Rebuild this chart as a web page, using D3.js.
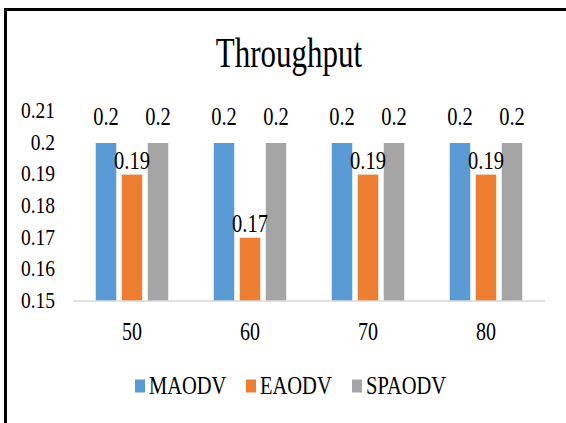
<!DOCTYPE html>
<html>
<head>
<meta charset="utf-8">
<script src="https://cdn.jsdelivr.net/npm/d3@7"></script>
<style>
  html, body { margin: 0; padding: 0; background: #fff; }
  svg { display: block; }
  text { font-family: "Liberation Serif", "Times New Roman", serif; fill: #000; }
</style>
</head>
<body>
<script>
const categories = ["50", "60", "70", "80"];
const seriesNames = ["MAODV", "EAODV", "SPAODV"];
const MAODV = [0.2, 0.2, 0.2, 0.2];
const EAODV = [0.19, 0.17, 0.19, 0.19];
const SPAODV = [0.2, 0.2, 0.2, 0.2];
const yTicks = [0.15, 0.16, 0.17, 0.18, 0.19, 0.2, 0.21];
const colors = ["#5B9BD5", "#ED7D31", "#A5A5A5"];

const W = 566, H = 423;
const svg = d3.select("body").append("svg").attr("width", W).attr("height", H);

// outer border (chart frame, cut at right/bottom)
svg.append("rect").attr("x", 5.5).attr("y", 9.5).attr("width", 620).attr("height", 500)
  .attr("fill", "#fff").attr("stroke", "#000").attr("stroke-width", 3);

const SY = 1.22;
function addText(g, x, y, str, size, anchor, sy) {
  return g.append("text")
    .attr("transform", `translate(${x},${y}) scale(1,${sy || SY})`)
    .attr("text-anchor", anchor || "middle")
    .style("font-size", size + "px")
    .text(str);
}

// title
addText(svg, 289, 67, "Throughput", 31, "middle", 1.35);

const x0 = d3.scaleBand().domain(categories).range([73, 545]).paddingInner(0).paddingOuter(0);
const x1 = d3.scaleBand().domain(seriesNames).range([-36.25, 36.25]).paddingInner(0.2115).paddingOuter(0);
const y = d3.scaleLinear().domain([0.15, 0.21]).range([301, 111.4]);

const data = [MAODV, EAODV, SPAODV];

// y tick labels
yTicks.forEach(t => {
  addText(svg, 55, y(t) + 6.8, d3.format(".2~f")(t), 19.5, "end");
});

// bars
seriesNames.forEach((s, si) => {
  categories.forEach((c, ci) => {
    const v = data[si][ci];
    const cx = x0(c) + x0.bandwidth() / 2;
    svg.append("rect")
      .attr("x", cx + x1(s))
      .attr("y", y(v))
      .attr("width", x1.bandwidth())
      .attr("height", y(0.15) - y(v))
      .attr("fill", colors[si]);
  });
});

// x axis line
svg.append("line").attr("x1", 73).attr("x2", 545).attr("y1", 301).attr("y2", 301)
  .attr("stroke", "#D9D9D9").attr("stroke-width", 1.5);

// data labels
seriesNames.forEach((s, si) => {
  categories.forEach((c, ci) => {
    const v = data[si][ci];
    const cx = x0(c) + x0.bandwidth() / 2 + x1(s) + x1.bandwidth() / 2;
    const off = si === 1 ? 6 : 18;
    addText(svg, cx, y(v) - off, d3.format(".2~f")(v), 20.5, "middle");
  });
});

// category labels
categories.forEach(c => {
  addText(svg, x0(c) + x0.bandwidth() / 2, 340, c, 20, "middle");
});

// legend
const legendX = [135, 246, 352];
seriesNames.forEach((s, si) => {
  svg.append("rect").attr("x", legendX[si]).attr("y", 379.5).attr("width", 10).attr("height", 13)
    .attr("fill", colors[si]);
  addText(svg, legendX[si] + 14, 394, s, 20.5, "start");
});
</script>
</body>
</html>
